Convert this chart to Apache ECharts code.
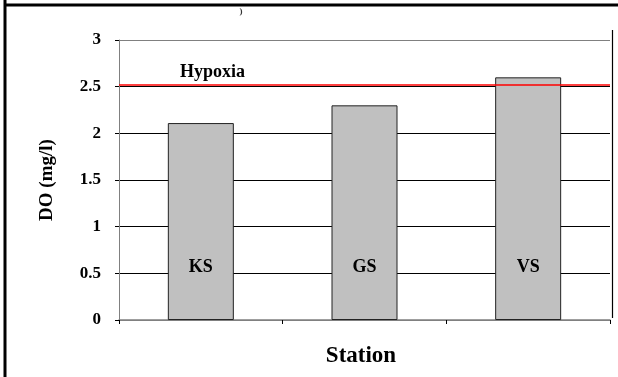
<!DOCTYPE html>
<html>
<head>
<meta charset="utf-8">
<script src="https://cdn.jsdelivr.net/npm/echarts@6/dist/echarts.min.js"></script>
<style>
  html, body { margin: 0; padding: 0; background: #fff; }
  #chart { width: 618px; height: 377px; }
</style>
</head>
<body>
<div id="chart"></div>
<script>
// Dissolved oxygen by station, with the hypoxia threshold
const stations = ['KS', 'GS', 'VS'];
const doValues = [2.11, 2.30, 2.60];
const hypoxiaLevel = 2.52;
const yTicks = { min: 0, max: 3, interval: 0.5 };

const serif = '"Liberation Serif", "DejaVu Serif", serif';

const chart = echarts.init(document.getElementById('chart'), null, { renderer: 'canvas' });

chart.setOption({
  animation: false,
  backgroundColor: '#fff',
  grid: { left: 119, right: 8, top: 40, bottom: 57, containLabel: false },
  xAxis: {
    type: 'category',
    data: stations,
    boundaryGap: true,
    axisLine: { lineStyle: { color: '#808080', width: 1.5 } },
    axisTick: { show: true, inside: false, length: 4, lineStyle: { color: '#000' } },
    axisLabel: { show: false },
    splitLine: { show: false }
  },
  yAxis: {
    type: 'value',
    min: yTicks.min,
    max: yTicks.max,
    interval: yTicks.interval,
    name: 'DO (mg/l)',
    nameLocation: 'middle',
    nameRotate: 90,
    nameGap: 62,
    nameTextStyle: { fontFamily: serif, fontWeight: 'bold', fontSize: 19, color: '#000' },
    axisLine: { show: true, lineStyle: { color: '#808080', width: 1 } },
    axisTick: { show: true, inside: false, length: 4, lineStyle: { color: '#000' } },
    axisLabel: {
      fontFamily: serif, fontWeight: 'bold', fontSize: 17, color: '#000', margin: 18
    },
    splitLine: {
      show: true,
      lineStyle: { color: ['#808080', '#000', '#000', '#000', '#000', '#000', '#808080'], width: 1 }
    }
  },
  series: [{
    type: 'bar',
    data: doValues,
    barWidth: 66,
    itemStyle: { color: '#c0c0c0', borderColor: '#222', borderWidth: 1 },
    label: {
      show: true,
      position: 'insideBottom',
      distance: 44,
      formatter: (p) => p.name,
      fontFamily: serif, fontWeight: 'bold', fontSize: 18, color: '#000'
    },
    markLine: {
      silent: true,
      symbol: ['none', 'none'],
      lineStyle: { color: '#ff0000', width: 1.5, type: 'solid' },
      label: {
        show: true,
        position: 'insideStartTop',
        distance: [61, 3],
        formatter: 'Hypoxia',
        fontFamily: serif, fontWeight: 'bold', fontSize: 18, color: '#000'
      },
      data: [{ yAxis: hypoxiaLevel }]
    }
  }],
  graphic: [
    // outer frame edges
    { type: 'line', shape: { x1: 5, y1: 0, x2: 5, y2: 377 }, style: { stroke: '#000', lineWidth: 3 } },
    { type: 'line', shape: { x1: 4, y1: 5, x2: 618, y2: 5 }, style: { stroke: '#000', lineWidth: 3 } },
    // right border of the chart box
    { type: 'line', shape: { x1: 612.5, y1: 30, x2: 612.5, y2: 318 }, style: { stroke: '#000', lineWidth: 1.2 } },
    { type: 'text', x: 241, y: 12, style: { text: ')', font: 'bold 9px ' + serif, fill: '#333', align: 'center', verticalAlign: 'middle' } },
    // category axis title
    {
      type: 'text', x: 361, y: 356,
      style: { text: 'Station', font: 'bold 23px ' + serif, fill: '#000', align: 'center', verticalAlign: 'middle' }
    }
  ]
});
</script>
</body>
</html>
